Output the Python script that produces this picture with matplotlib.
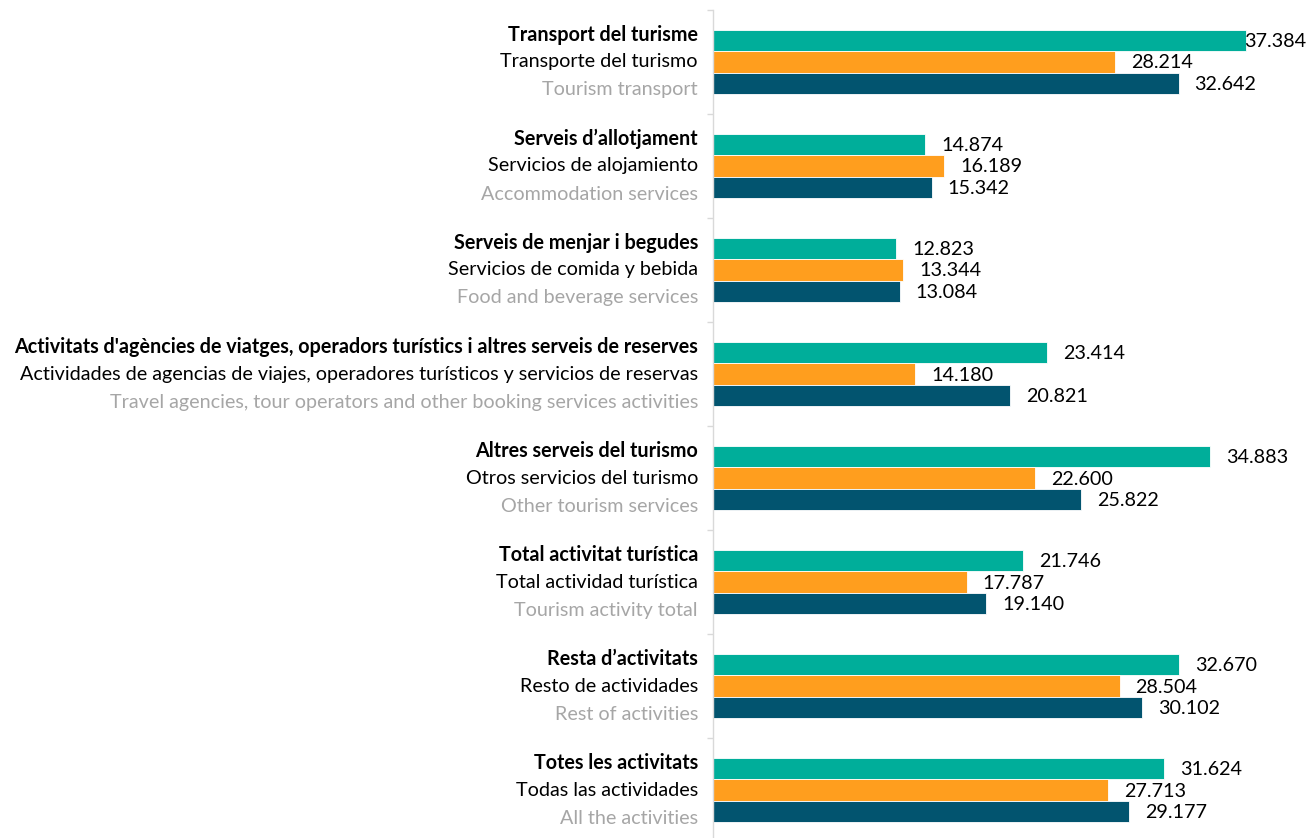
import matplotlib
matplotlib.use("Agg")
import matplotlib.pyplot as plt
import numpy as np

cat_ca = ["Transport del turisme", "Serveis d\u2019allotjament", "Serveis de menjar i begudes",
          "Activitats d'agències de viatges, operadors turístics i altres serveis de reserves",
          "Altres serveis del turismo", "Total activitat turística", "Resta d\u2019activitats",
          "Totes les activitats"]
cat_es = ["Transporte del turismo", "Servicios de alojamiento", "Servicios de comida y bebida",
          "Actividades de agencias de viajes, operadores turísticos y servicios de reservas",
          "Otros servicios del turismo", "Total actividad turística", "Resto de actividades",
          "Todas las actividades"]
cat_en = ["Tourism transport", "Accommodation services", "Food and beverage services",
          "Travel agencies, tour operators and other booking services activities",
          "Other tourism services", "Tourism activity total", "Rest of activities",
          "All the activities"]

series_teal = [37.384, 14.874, 12.823, 23.414, 34.883, 21.746, 32.670, 31.624]
series_orange = [28.214, 16.189, 13.344, 14.180, 22.600, 17.787, 28.504, 27.713]
series_blue = [32.642, 15.342, 13.084, 20.821, 25.822, 19.140, 30.102, 29.177]

colors = ["#00AE9A", "#FF9E1E", "#02546F"]
FONT = "Lato"
FS = 14.2

W, H = 1312, 838
fig = plt.figure(figsize=(W / 100, H / 100), dpi=100)
ax = fig.add_axes([713 / W, (838 - 842) / H, (W - 713) / W, 832 / H])

n = len(cat_ca)
y = np.arange(n)
bh = 64 / 3 / 104
allser = [series_teal, series_orange, series_blue]
offs = [-bh, 0, bh]
for s, c, o in zip(allser, colors, offs):
    ax.barh(y + o, s, height=bh, color=c, edgecolor="white", linewidth=0.6)

ax.set_xlim(0, 42.0)
ax.set_ylim(n - 0.5, -0.5)
ax.set_yticks(np.arange(-0.5, n, 1.0))
ax.set_yticklabels([])
ax.set_xticks([])
for sp in ["top", "right", "bottom"]:
    ax.spines[sp].set_visible(False)
ax.spines["left"].set_color("#D9D9D9")
ax.spines["left"].set_linewidth(1.0)
ax.tick_params(axis="y", direction="out", length=4, color="#D9D9D9", width=1.0)

# category labels
px = 0.72  # points per pixel
for i in range(n):
    for txt, dy, col, wt in [(cat_ca[i], 27, "black", "bold"),
                             (cat_es[i], 0, "black", "normal"),
                             (cat_en[i], -28, "#A6A6A6", "normal")]:
        ax.annotate(txt, xy=(0, i), xycoords=("axes fraction", "data"),
                    xytext=(-15 * px, dy * px), textcoords="offset points",
                    ha="right", va="center", fontsize=FS, family=FONT,
                    color=col, fontweight=wt)

# value labels
fig.canvas.draw()
renderer = fig.canvas.get_renderer()
for s, o in zip(allser, offs):
    for i, v in enumerate(s):
        t = ax.annotate(f"{v:.3f}", xy=(v, i + o), xycoords="data",
                        xytext=(16 * px, -1 * px), textcoords="offset points",
                        ha="left", va="center", fontsize=FS, family=FONT,
                        color="black")
        bb = t.get_window_extent(renderer)
        if bb.x1 > W - 6:
            shift = bb.x1 - (W - 6)
            t.set_position((16 * px - shift * px, -1 * px))

fig.savefig("out.png", dpi=100)
